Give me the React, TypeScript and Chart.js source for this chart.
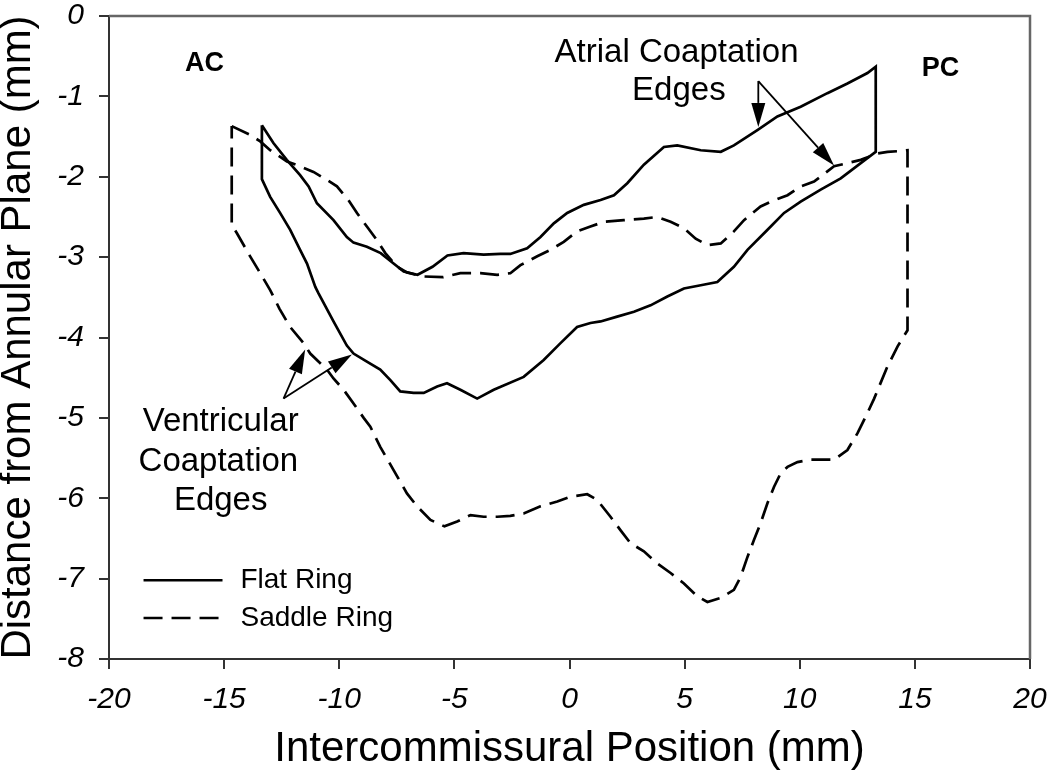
import React, { useEffect, useRef } from "react";
import { Chart, registerables } from "chart.js";

Chart.register(...registerables);

// ---- Data (mm) ----
// Flat ring: atrial coaptation edge, AC -> PC
const flatAtrialX = [-13.36, -12.86, -12.28, -11.7, -11.33, -10.97, -10.25, -9.67, -9.38, -8.8, -8.2, -7.64, -7.2, -6.6, -5.95, -5.3, -4.6, -3.73, -3.0, -2.57, -1.84, -1.26, -0.68, -0.1, 0.62, 1.35, 1.93, 2.51, 3.23, 4.1, 4.68, 5.7, 6.57, 7.14, 8.16, 9.03, 10.04, 11.2, 12.07, 12.94, 13.3];
const flatAtrialY = [-1.36, -1.58, -1.79, -1.98, -2.12, -2.33, -2.54, -2.75, -2.82, -2.87, -2.95, -3.08, -3.18, -3.22, -3.12, -2.98, -2.95, -2.97, -2.96, -2.96, -2.89, -2.75, -2.58, -2.45, -2.35, -2.29, -2.23, -2.08, -1.85, -1.63, -1.61, -1.67, -1.69, -1.61, -1.42, -1.25, -1.13, -0.96, -0.84, -0.71, -0.63];
// Flat ring: ventricular coaptation edge, PC -> AC
const flatVentricularX = [13.3, 12.65, 11.78, 10.91, 10.04, 9.32, 8.6, 7.73, 7.14, 6.42, 5.7, 4.97, 4.25, 3.52, 2.8, 2.07, 1.35, 0.91, 0.33, -0.39, -1.12, -1.99, -3.29, -4.01, -4.74, -5.32, -5.75, -6.33, -6.77, -7.35, -7.78, -8.22, -8.8, -9.38, -9.67, -10.25, -10.9, -11.04, -11.4, -11.7, -12.13, -12.57, -13.0, -13.36];
const flatVentricularY = [-1.69, -1.83, -2.02, -2.16, -2.31, -2.45, -2.66, -2.91, -3.12, -3.31, -3.35, -3.39, -3.49, -3.6, -3.68, -3.74, -3.8, -3.82, -3.87, -4.07, -4.28, -4.49, -4.65, -4.76, -4.65, -4.57, -4.61, -4.69, -4.69, -4.67, -4.53, -4.4, -4.3, -4.2, -4.1, -3.8, -3.45, -3.37, -3.08, -2.91, -2.66, -2.45, -2.25, -2.03];

// Saddle ring: atrial coaptation edge, AC -> PC
const saddleAtrialX = [-14.67, -13.87, -13.43, -13.0, -12.27, -11.7, -11.12, -10.53, -10.1, -9.6, -9.23, -8.8, -8.36, -8.0, -7.49, -7.06, -6.4, -5.5, -4.74, -3.87, -3.14, -2.57, -2.13, -1.4, -0.83, -0.25, 0.33, 0.91, 1.49, 2.36, 3.23, 3.81, 4.39, 4.97, 5.48, 5.99, 6.57, 7.14, 7.58, 8.3, 8.74, 9.47, 10.04, 10.62, 11.49, 12.07, 12.65, 13.38, 13.81, 14.39, 14.68];
const saddleAtrialY = [-1.37, -1.48, -1.56, -1.67, -1.81, -1.87, -1.94, -2.04, -2.12, -2.29, -2.45, -2.62, -2.79, -2.95, -3.12, -3.19, -3.24, -3.25, -3.2, -3.2, -3.22, -3.2, -3.1, -2.99, -2.91, -2.81, -2.68, -2.62, -2.56, -2.54, -2.52, -2.5, -2.56, -2.64, -2.77, -2.85, -2.83, -2.68, -2.54, -2.37, -2.31, -2.23, -2.12, -2.06, -1.87, -1.83, -1.79, -1.71, -1.69, -1.68, -1.67];
// Saddle ring: ventricular coaptation edge, PC -> AC
const saddleVentricularX = [14.68, 14.25, 13.81, 13.23, 12.94, 12.51, 12.07, 11.49, 10.48, 9.9, 9.47, 9.17, 8.88, 8.6, 8.3, 8.01, 7.73, 7.43, 7.14, 6.57, 5.99, 5.55, 4.97, 4.39, 3.81, 3.23, 2.65, 2.22, 1.78, 1.2, 0.77, 0.04, -0.53, -1.26, -1.99, -2.57, -3.14, -3.73, -4.3, -4.88, -5.43, -6.04, -6.62, -7.06, -7.64, -8.22, -8.65, -8.94, -9.38, -9.81, -10.25, -10.53, -11.26, -11.55, -12.13, -12.6, -13.0, -13.43, -13.87, -14.45, -14.67];
const saddleVentricularY = [-3.91, -4.11, -4.36, -4.76, -4.94, -5.19, -5.4, -5.52, -5.52, -5.55, -5.61, -5.69, -5.86, -6.06, -6.31, -6.52, -6.73, -6.98, -7.14, -7.24, -7.29, -7.22, -7.06, -6.93, -6.81, -6.66, -6.56, -6.4, -6.23, -6.02, -5.95, -5.98, -6.04, -6.1, -6.19, -6.22, -6.23, -6.23, -6.21, -6.29, -6.35, -6.27, -6.1, -5.94, -5.65, -5.36, -5.11, -5.0, -4.82, -4.65, -4.51, -4.4, -4.2, -4.07, -3.87, -3.64, -3.41, -3.2, -2.99, -2.7, -2.6];

const seriesNames = ["Flat Ring", "Saddle Ring"];
const xTickValues = [-20, -15, -10, -5, 0, 5, 10, 15, 20];
const yTickValues = [0, -1, -2, -3, -4, -5, -6, -7, -8];
const xTitle = "Intercommissural Position (mm)";
const yTitle = "Distance from Annular Plane (mm)";

// ---- Annotation layout (data coordinates) ----
const FONT = "'Liberation Sans', Arial, Helvetica, sans-serif";
const labels = [
  { text: "AC", x: -15.85, y: -0.68, bold: true, size: 27 },
  { text: "PC", x: 16.11, y: -0.75, bold: true, size: 27 },
  { text: "Atrial Coaptation", x: 4.65, y: -0.57, bold: false, size: 33 },
  { text: "Edges", x: 4.75, y: -1.05, bold: false, size: 33 },
  { text: "Ventricular", x: -15.15, y: -5.16, bold: false, size: 33 },
  { text: "Coaptation", x: -15.25, y: -5.66, bold: false, size: 33 },
  { text: "Edges", x: -15.15, y: -6.15, bold: false, size: 33 },
];
const arrows = [
  { from: [8.2, -0.81], to: [8.2, -1.38] },
  { from: [8.2, -0.81], to: [11.49, -1.86] },
  { from: [-12.42, -4.76], to: [-11.48, -4.15] },
  { from: [-12.42, -4.76], to: [-9.45, -4.21] },
];
const legendLayout = { x0: -18.5, x1: -15.07, textX: -14.29, rows: [-7.02, -7.49] };
const DASH = [19, 9];

function buildLoop(ax: number[], ay: number[], vx: number[], vy: number[]) {
  const pts = ax.map((x, i) => ({ x, y: ay[i] }));
  vx.forEach((x, i) => pts.push({ x, y: vy[i] }));
  pts.push({ x: ax[0], y: ay[0] });
  return pts;
}

const overlayPlugin = {
  id: "overlay",
  afterDraw(chart: any) {
    const { ctx, chartArea, scales } = chart;
    const sx = scales.x, sy = scales.y;
    ctx.save();
    // top/right frame
    ctx.strokeStyle = "#666";
    ctx.lineWidth = 2.5;
    ctx.beginPath();
    ctx.moveTo(chartArea.left, chartArea.top);
    ctx.lineTo(chartArea.right, chartArea.top);
    ctx.lineTo(chartArea.right, chartArea.bottom);
    ctx.stroke();

    // text labels
    ctx.fillStyle = "#000";
    ctx.textAlign = "center";
    ctx.textBaseline = "alphabetic";
    labels.forEach((l) => {
      ctx.font = `${l.bold ? "bold " : ""}${l.size}px ${FONT}`;
      ctx.fillText(l.text, sx.getPixelForValue(l.x), sy.getPixelForValue(l.y));
    });

    // arrows
    ctx.strokeStyle = "#000";
    ctx.lineWidth = 1.8;
    arrows.forEach((a) => {
      const x0 = sx.getPixelForValue(a.from[0]);
      const y0 = sy.getPixelForValue(a.from[1]);
      const x1 = sx.getPixelForValue(a.to[0]);
      const y1 = sy.getPixelForValue(a.to[1]);
      const ang = Math.atan2(y1 - y0, x1 - x0);
      const len = 24, half = 7;
      const bx = x1 - len * Math.cos(ang), by = y1 - len * Math.sin(ang);
      ctx.beginPath();
      ctx.moveTo(x0, y0);
      ctx.lineTo(bx, by);
      ctx.stroke();
      ctx.beginPath();
      ctx.moveTo(x1, y1);
      ctx.lineTo(bx + half * Math.sin(ang), by - half * Math.cos(ang));
      ctx.lineTo(bx - half * Math.sin(ang), by + half * Math.cos(ang));
      ctx.closePath();
      ctx.fill();
    });

    // legend
    chart.data.datasets.forEach((ds: any, i: number) => {
      const yy = sy.getPixelForValue(legendLayout.rows[i]);
      ctx.strokeStyle = "#000";
      ctx.lineWidth = ds.borderWidth;
      ctx.setLineDash(ds.borderDash || []);
      ctx.beginPath();
      ctx.moveTo(sx.getPixelForValue(legendLayout.x0), yy);
      ctx.lineTo(sx.getPixelForValue(legendLayout.x1), yy);
      ctx.stroke();
      ctx.setLineDash([]);
      ctx.font = `28px ${FONT}`;
      ctx.textAlign = "left";
      ctx.textBaseline = "middle";
      ctx.fillText(ds.label, sx.getPixelForValue(legendLayout.textX), yy);
    });
    ctx.restore();
  },
};

export default function App() {
  const ref = useRef<HTMLCanvasElement | null>(null);
  useEffect(() => {
    if (!ref.current) return;
    const flat = buildLoop(flatAtrialX, flatAtrialY, flatVentricularX, flatVentricularY);
    const saddle = buildLoop(saddleAtrialX, saddleAtrialY, saddleVentricularX, saddleVentricularY);
    const tickFont = { family: FONT, size: 30, style: "italic" as const, lineHeight: 1 };
    const chart = new Chart(ref.current, {
      type: "scatter",
      data: {
        datasets: [
          { label: seriesNames[0], data: flat, showLine: true, borderColor: "#000", borderWidth: 2.7, pointRadius: 0, tension: 0, fill: false },
          { label: seriesNames[1], data: saddle, showLine: true, borderColor: "#000", borderWidth: 2.7, borderDash: DASH, pointRadius: 0, tension: 0, fill: false },
        ],
      },
      options: {
        animation: false,
        responsive: false,
        events: [],
        layout: { padding: { top: 16, right: 20, bottom: 0, left: 0 } },
        plugins: { legend: { display: false }, tooltip: { enabled: false } },
        scales: {
          x: {
            type: "linear",
            min: -20,
            max: 20,
            afterBuildTicks: (s: any) => { s.ticks = xTickValues.map((v) => ({ value: v })); },
            afterFit: (s: any) => { s.height = 119; s.paddingLeft = 0; s.paddingRight = 0; },
            ticks: { font: tickFont, color: "#000", padding: 16 },
            grid: { display: true, drawOnChartArea: false, drawTicks: true, tickLength: 10, color: "#333", lineWidth: 2 },
            border: { display: true, color: "#333", width: 2 },
            title: { display: true, text: xTitle, color: "#000", font: { family: FONT, size: 42, lineHeight: 1 }, padding: { top: 0, bottom: 8 } },
          },
          y: {
            type: "linear",
            min: -8,
            max: 0,
            afterBuildTicks: (s: any) => { s.ticks = yTickValues.map((v) => ({ value: v })); },
            afterFit: (s: any) => { s.width = 109; s.paddingTop = 0; s.paddingBottom = 0; },
            ticks: { font: tickFont, color: "#000", padding: 15 },
            grid: { display: true, drawOnChartArea: false, drawTicks: true, tickLength: 10, color: "#333", lineWidth: 2 },
            border: { display: true, color: "#333", width: 2 },
            title: { display: true, text: yTitle, color: "#000", font: { family: FONT, size: 42, lineHeight: 0.9 }, padding: { top: 0, bottom: 0 } },
          },
        },
      },
      plugins: [overlayPlugin],
    });
    return () => chart.destroy();
  }, []);
  return (
    <div style={{ position: "absolute", left: 0, top: 0, width: 1050, height: 778, background: "#fff" }}>
      <canvas ref={ref} width={1050} height={778} style={{ display: "block" }} />
    </div>
  );
}
